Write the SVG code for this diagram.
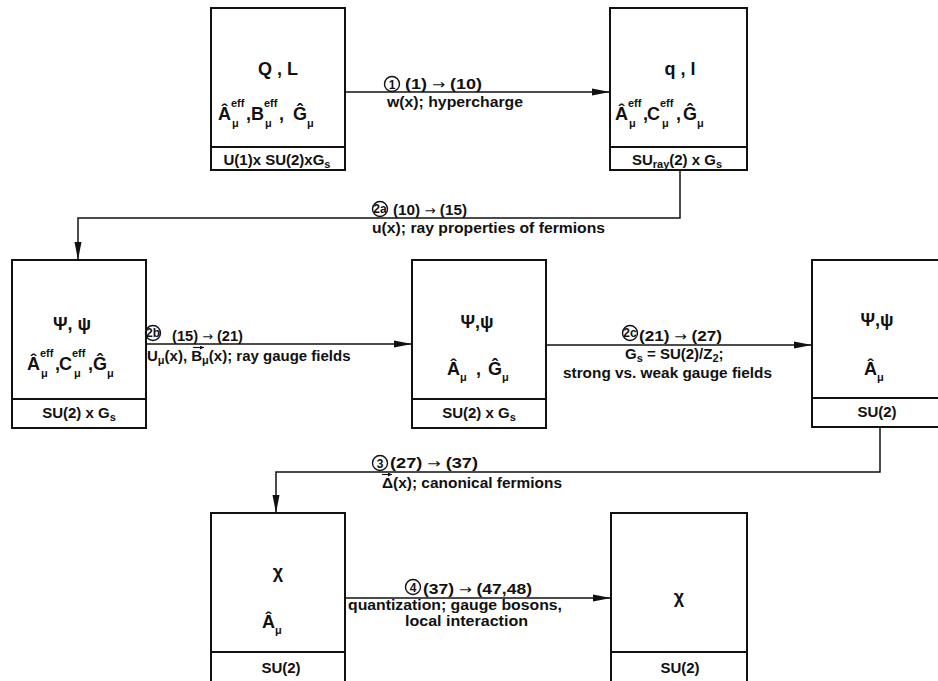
<svg xmlns="http://www.w3.org/2000/svg" width="938" height="681" viewBox="0 0 938 681">
<style>
text{font-family:"Liberation Sans","DejaVu Sans",sans-serif;font-weight:bold;fill:#111}
.m{font-size:18px}
.s{font-size:11px}
.f{font-size:15px}
.l{font-size:15px}
.ar{font-family:"DejaVu Sans",sans-serif;font-weight:normal;font-size:13px}
.c{font-size:12px;text-anchor:middle}
.mid{text-anchor:middle}
.box{fill:none;stroke:#111;stroke-width:2}
.div{stroke:#111;stroke-width:1.8}
.conn{fill:none;stroke:#111;stroke-width:1.5}
.circ{fill:none;stroke:#111;stroke-width:1.4}
.acc{fill:none;stroke:#111;stroke-width:1.1}
</style>
<defs>
<marker id="ah" markerUnits="userSpaceOnUse" markerWidth="18" markerHeight="8" refX="18" refY="4" orient="auto">
<path d="M0,0.5 L18,4 L0,7.5 z" fill="#111"/>
</marker>
<marker id="sm" markerUnits="userSpaceOnUse" markerWidth="4" markerHeight="4" refX="4" refY="2" orient="auto">
<path d="M0,0 L4,2 L0,4 z" fill="#111"/>
</marker>
</defs>
<rect width="938" height="681" fill="#fff"/>

<g id="connectors">
<path class="conn" d="M345,92 H610" marker-end="url(#ah)"/>
<path class="conn" d="M680,170 V218 H78 V260" marker-end="url(#ah)"/>
<path class="conn" d="M146,344 H412" marker-end="url(#ah)"/>
<path class="conn" d="M546,345 H812" marker-end="url(#ah)"/>
<path class="conn" d="M880,428 V472 H276 V513" marker-end="url(#ah)"/>
<path class="conn" d="M345,598 H611" marker-end="url(#ah)"/>

<g id="label1">
<circle class="circ" cx="392" cy="84" r="7.5"/>
<text class="c" x="392" y="88.5">1</text>
<text class="l" x="405" y="89" textLength="77" lengthAdjust="spacingAndGlyphs">(1) <tspan class="ar">→</tspan> (10)</text>
<text class="l" x="387" y="107" textLength="136" lengthAdjust="spacingAndGlyphs">w(x); hypercharge</text>
</g>
<g id="label2a">
<circle class="circ" cx="380" cy="209" r="7.5"/>
<text class="c" x="380" y="213" font-size="10">2a</text>
<text class="l" x="393" y="215" textLength="74" lengthAdjust="spacingAndGlyphs">(10) <tspan class="ar">→</tspan> (15)</text>
<text class="l" x="372" y="233" textLength="233" lengthAdjust="spacingAndGlyphs">u(x); ray properties of fermions</text>
</g>
<g id="label2b">
<circle class="circ" cx="153" cy="333" r="7.5"/>
<text class="c" x="153" y="337" font-size="10">2b</text>
<text class="l" x="172" y="341" textLength="71" lengthAdjust="spacingAndGlyphs">(15) <tspan class="ar">→</tspan> (21)</text>
<text class="l" x="147" y="361" font-size="15.5">U<tspan class="s" dy="3">μ</tspan><tspan dy="-3">(x), B</tspan><tspan class="s" dy="3">μ</tspan><tspan dy="-3">(x); ray gauge fields</tspan></text>
<path class="acc" d="M193,347.5 H204" marker-end="url(#sm)"/>
</g>
<g id="label2c">
<circle class="circ" cx="630" cy="333" r="7.5"/>
<text class="c" x="630" y="337" font-size="10">2c</text>
<text class="l" x="639" y="341" textLength="83" lengthAdjust="spacingAndGlyphs">(21) <tspan class="ar">→</tspan> (27)</text>
<text class="l" x="625" y="359">G<tspan class="s" dy="3">s</tspan><tspan dy="-3"> = SU(2)/Z</tspan><tspan class="s" dy="3">2</tspan><tspan dy="-3">;</tspan></text>
<text class="l" x="563" y="378" textLength="209" lengthAdjust="spacingAndGlyphs">strong vs. weak gauge fields</text>
</g>
<g id="label3">
<circle class="circ" cx="380" cy="463" r="7.5"/>
<text class="c" x="380" y="467.5">3</text>
<text class="l" x="390" y="468" textLength="88" lengthAdjust="spacingAndGlyphs">(27) <tspan class="ar">→</tspan> (37)</text>
<text class="l" x="382" y="488" textLength="180" lengthAdjust="spacingAndGlyphs">Δ(x); canonical fermions</text>
<path class="acc" d="M382,474.5 H392" marker-end="url(#sm)"/>
</g>
<g id="label4">
<circle class="circ" cx="413" cy="587" r="7.5"/>
<text class="c" x="413" y="591.5">4</text>
<text class="l" x="423" y="594" textLength="109" lengthAdjust="spacingAndGlyphs">(37) <tspan class="ar">→</tspan> (47,48)</text>
<text class="l" x="348" y="610" font-size="14" textLength="214" lengthAdjust="spacingAndGlyphs">quantization; gauge bosons,</text>
<text class="l" x="405" y="626" font-size="14" textLength="123" lengthAdjust="spacingAndGlyphs">local interaction</text>
</g>
</g>

<g id="node1">
<rect class="box" x="211" y="8" width="134" height="162"/>
<line class="div" x1="211" y1="147" x2="345" y2="147"/>
<text class="m mid" x="278" y="75">Q , L</text>
<text class="m" x="218" y="120">Â</text>
<text class="s" x="231" y="107">eff</text>
<text class="s" x="232" y="127">μ</text>
<text class="m" x="246" y="120">,</text>
<text class="m" x="251" y="120">B</text>
<text class="s" x="264" y="107">eff</text>
<text class="s" x="265" y="127">μ</text>
<text class="m" x="279" y="120">,</text>
<text class="m" x="293" y="120">Ĝ</text>
<text class="s" x="307" y="127">μ</text>
<text class="f mid" x="277" y="165">U(1)x SU(2)xG<tspan class="s" dy="3">s</tspan></text>
</g>

<g id="node2">
<rect class="box" x="610" y="8" width="137" height="162"/>
<line class="div" x1="610" y1="147" x2="747" y2="147"/>
<text class="m mid" x="680" y="75">q , l</text>
<text class="m" x="615" y="120">Â</text>
<text class="s" x="628" y="107">eff</text>
<text class="s" x="629" y="127">μ</text>
<text class="m" x="643" y="120">,</text>
<text class="m" x="647" y="120">C</text>
<text class="s" x="660" y="107">eff</text>
<text class="s" x="662" y="127">μ</text>
<text class="m" x="676" y="120">,</text>
<text class="m" x="683" y="120">Ĝ</text>
<text class="s" x="697" y="127">μ</text>
<text class="f mid" x="677" y="165">SU<tspan class="s" dy="3">ray</tspan><tspan dy="-3">(2) x G</tspan><tspan class="s" dy="3">s</tspan></text>
</g>

<g id="node3">
<rect class="box" x="12" y="260" width="134" height="168"/>
<line class="div" x1="12" y1="399" x2="146" y2="399"/>
<text class="m mid" x="72" y="330">Ψ, ψ</text>
<text class="m" x="27" y="370">Â</text>
<text class="s" x="40" y="357">eff</text>
<text class="s" x="41" y="377">μ</text>
<text class="m" x="55" y="370">,</text>
<text class="m" x="59" y="370">C</text>
<text class="s" x="72" y="357">eff</text>
<text class="s" x="74" y="377">μ</text>
<text class="m" x="88" y="370">,</text>
<text class="m" x="93" y="370">Ĝ</text>
<text class="s" x="107" y="377">μ</text>
<text class="f mid" x="79" y="418">SU(2) x G<tspan class="s" dy="3">s</tspan></text>
</g>

<g id="node4">
<rect class="box" x="412" y="260" width="134" height="168"/>
<line class="div" x1="412" y1="399" x2="546" y2="399"/>
<text class="m mid" x="477" y="328">Ψ,ψ</text>
<text class="m" x="447" y="375">Â</text>
<text class="s" x="460" y="381">μ</text>
<text class="m" x="476" y="375">,</text>
<text class="m" x="488" y="375">Ĝ</text>
<text class="s" x="502" y="381">μ</text>
<text class="f mid" x="479" y="418">SU(2) x G<tspan class="s" dy="3">s</tspan></text>
</g>

<g id="node5">
<path class="box" d="M945,260 H812 V427 H945"/>
<line class="div" x1="812" y1="398" x2="945" y2="398"/>
<text class="m mid" x="877" y="326">Ψ,ψ</text>
<text class="m" x="864" y="375">Â</text>
<text class="s" x="877" y="381">μ</text>
<text class="f mid" x="877" y="417">SU(2)</text>
</g>

<g id="node6">
<path class="box" d="M211,690 V513 H345 V690"/>
<line class="div" x1="211" y1="652" x2="345" y2="652"/>
<text class="m mid" x="278" y="578">χ</text>
<text class="m" x="262" y="628">Â</text>
<text class="s" x="275" y="634">μ</text>
<text class="f mid" x="281" y="673">SU(2)</text>
</g>

<g id="node7">
<path class="box" d="M611,690 V513 H747 V690"/>
<line class="div" x1="611" y1="652" x2="747" y2="652"/>
<text class="m mid" x="679" y="603">χ</text>
<text class="f mid" x="680" y="673">SU(2)</text>
</g>
</svg>
